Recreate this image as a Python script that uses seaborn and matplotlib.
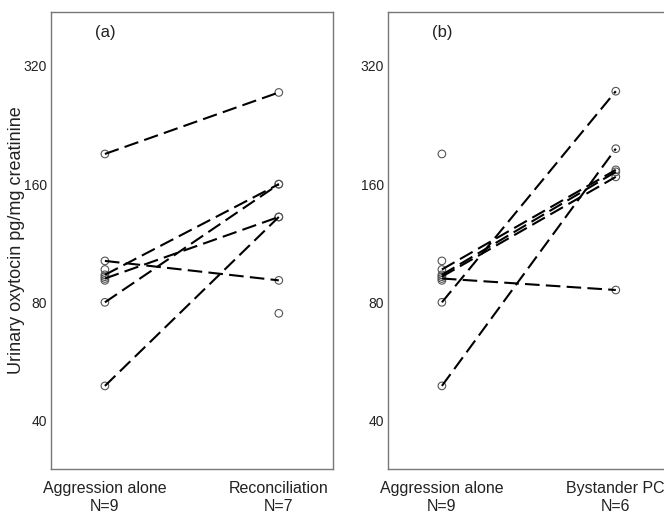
import matplotlib

matplotlib.use("Agg")
import matplotlib.pyplot as plt
import pandas as pd
import seaborn as sns
from matplotlib.ticker import FixedLocator, NullFormatter, NullLocator

# Urinary oxytocin (pg/mg creatinine)
AGGRESSION_ALONE = [191, 102, 97, 94, 93, 92, 91, 80, 49]
RECONCILIATION = [274, 160, 160, 132, 132, 91, 75]
BYSTANDER_PC = [276, 197, 174, 172, 167, 86]

# paired samples: (index in AGGRESSION_ALONE, index in the second condition)
RECON_PAIRS = [(0, 0), (1, 5), (3, 1), (7, 2), (5, 3), (8, 4)]
BYSTANDER_PAIRS = [(7, 0), (8, 1), (2, 2), (3, 3), (4, 4), (5, 5)]

PANEL_LABELS = ["(a)", "(b)"]
CATEGORY_LABELS = [
    ["Aggression alone\nN=9", "Reconciliation\nN=7"],
    ["Aggression alone\nN=9", "Bystander PC\nN=6"],
]
Y_TICKS = [40, 80, 160, 320]
Y_LABEL = "Urinary oxytocin pg/mg creatinine"


def points_frame(before: list, after: list) -> pd.DataFrame:
    rows = [{"pos": 0, "value": v} for v in before]
    rows += [{"pos": 1, "value": v} for v in after]
    return pd.DataFrame(rows)


def pairs_frame(before: list, after: list, pairs: list) -> pd.DataFrame:
    rows = []
    for unit, (i, j) in enumerate(pairs):
        rows.append({"unit": unit, "pos": 0, "value": before[i]})
        rows.append({"unit": unit, "pos": 1, "value": after[j]})
    return pd.DataFrame(rows)


def draw_panel(ax, before, after, pairs, label, cats) -> None:
    pts = points_frame(before, after)
    segs = pairs_frame(before, after, pairs)

    # open circles for every sample
    sns.scatterplot(
        data=pts, x="pos", y="value", ax=ax, s=30, marker="o",
        facecolor="none", edgecolor="#555555", linewidth=0.8, zorder=2,
    )
    # dashed lines joining paired samples
    sns.lineplot(
        data=segs, x="pos", y="value", units="unit", estimator=None, ax=ax,
        color="black", linewidth=1.5, linestyle=(0, (7, 3)), zorder=3,
    )

    # log2 y axis
    ax.set_yscale("log", base=2)
    ax.set_ylim(30.1, 440)
    ax.set_xlim(-0.31, 1.31)
    ax.yaxis.set_major_locator(FixedLocator(Y_TICKS))
    ax.yaxis.set_minor_locator(NullLocator())
    ax.yaxis.set_minor_formatter(NullFormatter())
    ax.set_yticks(Y_TICKS)
    ax.set_yticklabels([str(t) for t in Y_TICKS])

    # category labels
    ax.set_xticks([0, 1])
    ax.set_xticklabels(cats, fontsize=11.5, color="#222222")
    ax.tick_params(axis="x", length=0, pad=9)
    ax.tick_params(axis="y", length=2.2, width=0.8, color="#666666",
                   labelsize=10, labelcolor="#222222", pad=0.8)
    ax.set_xlabel("")
    ax.set_ylabel("")

    # box
    for sp in ax.spines.values():
        sp.set_color("#777777")
        sp.set_linewidth(1.0)
        sp.set_visible(True)

    ax.text(0.155, 0.955, label, transform=ax.transAxes, fontsize=12,
            color="#222222", ha="left", va="center")


def main() -> None:
    sns.set_theme(style="white")
    plt.rcParams["font.family"] = ["Liberation Sans", "DejaVu Sans"]

    fig = plt.figure(figsize=(6.64, 5.13), dpi=100)
    ax_a = fig.add_axes([0.0768, 0.0858, 0.4243, 0.8914])
    ax_b = fig.add_axes([0.5843, 0.0858, 0.4243, 0.8914])

    draw_panel(ax_a, AGGRESSION_ALONE, RECONCILIATION, RECON_PAIRS,
               PANEL_LABELS[0], CATEGORY_LABELS[0])
    draw_panel(ax_b, AGGRESSION_ALONE, BYSTANDER_PC, BYSTANDER_PAIRS,
               PANEL_LABELS[1], CATEGORY_LABELS[1])

    ax_a.set_ylabel(Y_LABEL, fontsize=13, color="#222222")
    ax_a.yaxis.set_label_coords(-0.092, 0.5)

    fig.savefig("out.png", dpi=100)


if __name__ == "__main__":
    main()
